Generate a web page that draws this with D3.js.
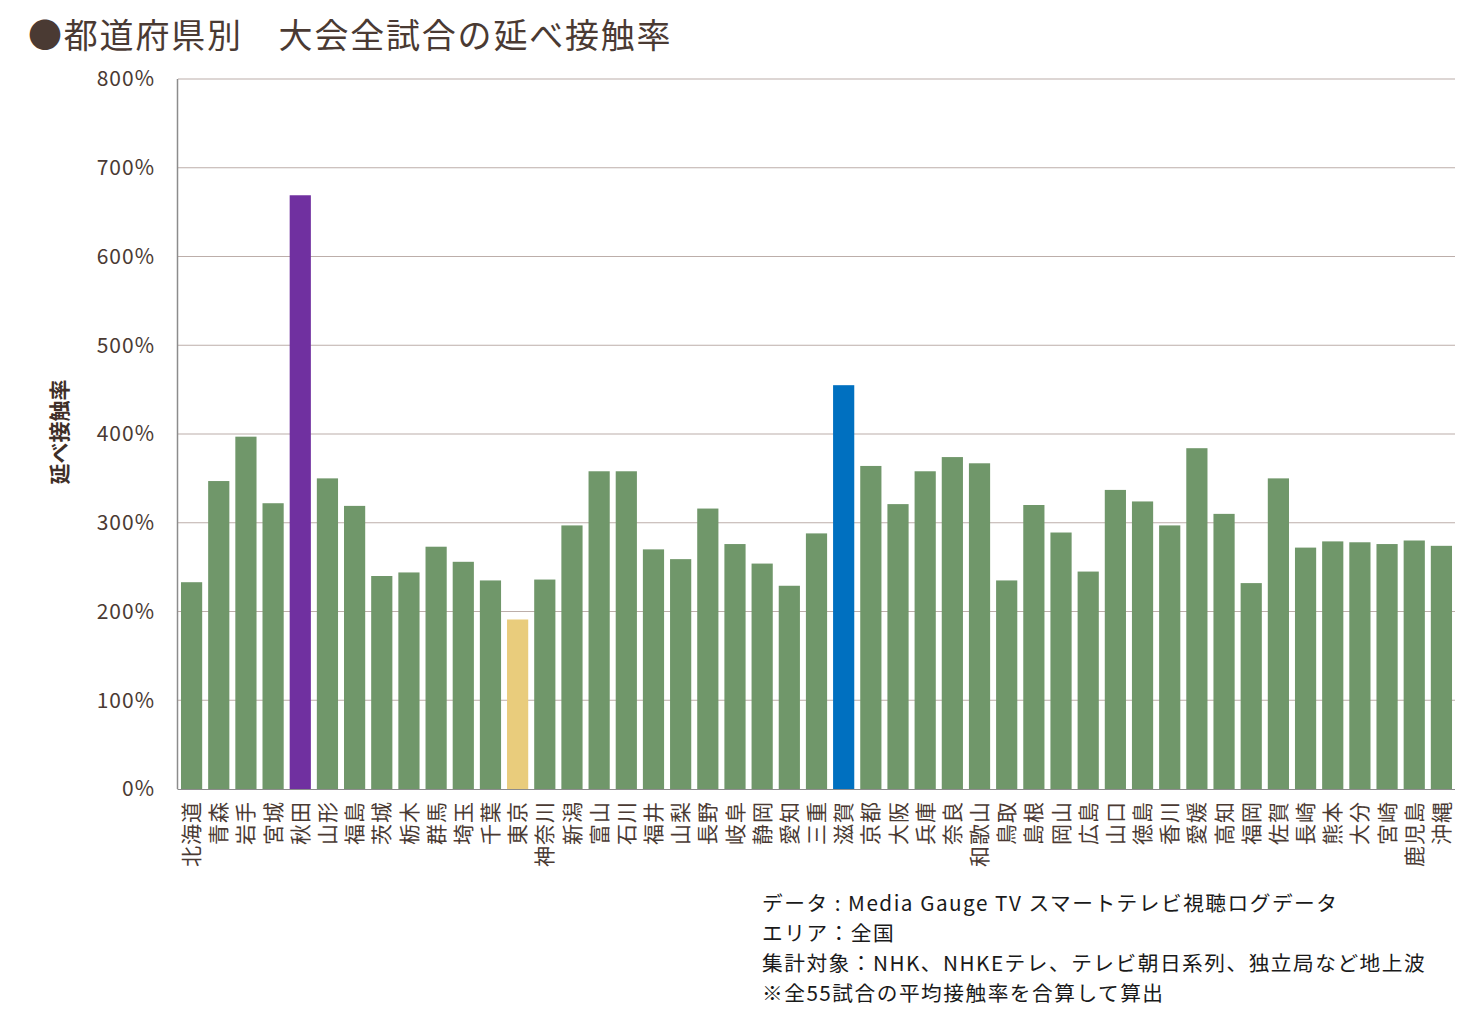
<!DOCTYPE html>
<html>
<head>
<meta charset="utf-8">
<script src="https://cdn.jsdelivr.net/npm/d3@7"></script>
<style>
  body { margin: 0; background: #fff; }
  svg { font-family: "Noto Sans CJK JP", "Noto Sans", sans-serif; }
</style>
</head>
<body>
<script>
const width = 1480;
const height = 1024;

const prefectures = ['北海道','青森','岩手','宮城','秋田','山形','福島','茨城','栃木','群馬','埼玉','千葉','東京','神奈川','新潟','富山','石川','福井','山梨','長野','岐阜','静岡','愛知','三重','滋賀','京都','大阪','兵庫','奈良','和歌山','鳥取','島根','岡山','広島','山口','徳島','香川','愛媛','高知','福岡','佐賀','長崎','熊本','大分','宮崎','鹿児島','沖縄'];
const rates = [233,347,397,322,669,350,319,240,244,273,256,235,191,236,297,358,358,270,259,316,276,254,229,288,455,364,321,358,374,367,235,320,289,245,337,324,297,384,310,232,350,272,279,278,276,280,274];
const highlight = { '秋田': '#7030a0', '滋賀': '#0070c0', '東京': '#e9cc7c' };
const yTicks = [0,100,200,300,400,500,600,700,800];
const notes = [
  'データ : Media Gauge TV  スマートテレビ視聴ログデータ',
  'エリア：全国',
  '集計対象：NHK、NHKEテレ、テレビ朝日系列、独立局など地上波',
  '※全55試合の平均接触率を合算して算出'
];

const textColor = '#4a3a33';
const margin = { left: 178, right: 25, top: 79, bottom: 235 };

const svg = d3.select('body').append('svg')
  .attr('width', width)
  .attr('height', height);

const x = d3.scaleBand()
  .domain(prefectures)
  .range([margin.left, width - margin.right])
  .paddingInner(0.22)
  .paddingOuter(0.11);

const y = d3.scaleLinear()
  .domain([0, 800])
  .range([height - margin.bottom, margin.top]);

// gridlines
svg.append('g')
  .selectAll('line')
  .data(yTicks.filter(d => d > 0))
  .join('line')
  .attr('x1', margin.left)
  .attr('x2', width - margin.right)
  .attr('y1', d => y(d))
  .attr('y2', d => y(d))
  .attr('stroke', '#bcaeaa')
  .attr('stroke-width', 1.2);

// y labels
svg.append('g')
  .selectAll('text')
  .data(yTicks)
  .join('text')
  .attr('x', 155)
  .attr('y', d => y(d))
  .attr('dy', '0.35em')
  .attr('text-anchor', 'end')
  .attr('font-size', 21)
  .style('letter-spacing', '1px')
  .attr('fill', textColor)
  .text(d => d + '%');

// bars
svg.append('g')
  .selectAll('rect')
  .data(prefectures)
  .join('rect')
  .attr('x', d => x(d))
  .attr('width', x.bandwidth())
  .attr('y', (d, i) => y(rates[i]))
  .attr('height', (d, i) => y(0) - y(rates[i]))
  .attr('fill', d => highlight[d] || '#70976a');

// axis lines
svg.append('line')
  .attr('x1', margin.left - 0.5).attr('x2', margin.left - 0.5)
  .attr('y1', margin.top).attr('y2', y(0))
  .attr('stroke', '#8c8c8c').attr('stroke-width', 1.5);
svg.append('line')
  .attr('x1', margin.left - 0.5).attr('x2', width - margin.right)
  .attr('y1', y(0) + 0.5).attr('y2', y(0) + 0.5)
  .attr('stroke', '#8c8c8c').attr('stroke-width', 1.2);

// x labels, rotated to read bottom-up
svg.append('g')
  .selectAll('text')
  .data(prefectures)
  .join('text')
  .attr('transform', d => `translate(${x(d) + x.bandwidth() / 2},801) rotate(-90)`)
  .attr('dy', '0.36em')
  .attr('text-anchor', 'end')
  .attr('font-size', 21)
  .style('letter-spacing', '1px')
  .attr('fill', textColor)
  .text(d => d);

// axis title
svg.append('text')
  .attr('transform', 'translate(67,432) rotate(-90)')
  .attr('text-anchor', 'middle')
  .attr('font-size', 21)
  .attr('font-weight', 'bold')
  .attr('fill', '#3f2f28')
  .text('延べ接触率');

// title
svg.append('text')
  .attr('x', 28)
  .attr('y', 48)
  .attr('font-size', 34)
  .style('letter-spacing', '1.8px')
  .attr('fill', textColor)
  .text('●都道府県別　大会全試合の延べ接触率');

// notes
svg.append('g')
  .selectAll('text')
  .data(notes)
  .join('text')
  .attr('x', 762)
  .attr('y', (d, i) => 911 + i * 30)
  .attr('font-size', 20.7)
  .style('letter-spacing', '1.5px')
  .attr('fill', '#1a1a1a')
  .text(d => d);
</script>
</body>
</html>
